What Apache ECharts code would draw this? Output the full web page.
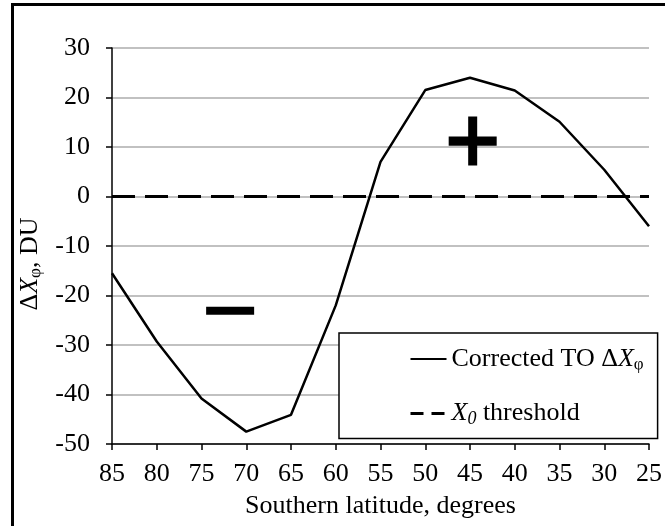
<!DOCTYPE html>
<html><head><meta charset="utf-8">
<script src="https://cdn.jsdelivr.net/npm/echarts@6/dist/echarts.min.js"></script>
<style>html,body{margin:0;padding:0;background:#fff}#c{width:665px;height:526px}</style>
</head><body><div id="c"></div>
<script>
const latitudes = [85, 80, 75, 70, 65, 60, 55, 50, 45, 40, 35, 30, 25];
const correctedTO = [-15.5, -29.3, -40.8, -47.5, -44.1, -22.0, 7.0, 21.5, 24.0, 21.4, 15.1, 5.4, -6.0];
const thresholdLat = [85, 25];
const thresholdVal = [0, 0];
const plusMark = [44.7, 11.2];
const minusMark = [71.8, -23.1];
const yTicks = [-50, -40, -30, -20, -10, 0, 10, 20, 30];
const xTicks = [85, 80, 75, 70, 65, 60, 55, 50, 45, 40, 35, 30, 25];

const F = 'Liberation Serif';
const FS = 26;
const chart = echarts.init(document.getElementById('c'));
const S1 = 'Corrected TO ΔXφ';
const S2 = 'X0 threshold';
const hidden = { color: 'rgba(0,0,0,0)', opacity: 0, borderWidth: 0 };
chart.setOption({
  animation: false,
  backgroundColor: '#fff',
  textStyle: { fontFamily: F },
  graphic: [{
    type: 'rect', shape: { x: 12.5, y: 4.5, width: 700, height: 600 },
    style: { fill: 'none', stroke: '#000', lineWidth: 3 }, z: 100, silent: true
  }],
  grid: { left: 112, right: 13, top: 48, bottom: 82 },
  xAxis: {
    type: 'value', min: xTicks[xTicks.length - 1], max: xTicks[0], interval: 5, inverse: true,
    name: 'Southern latitude, degrees', nameLocation: 'middle', nameGap: 49,
    nameTextStyle: { fontFamily: F, fontSize: FS, color: '#000' },
    axisLine: { onZero: false, lineStyle: { color: '#000', width: 1.5 } },
    axisTick: { show: true, length: 6, lineStyle: { color: '#000', width: 1.5 } },
    axisLabel: { fontFamily: F, fontSize: FS, color: '#000', margin: 17 },
    splitLine: { show: false }
  },
  yAxis: {
    type: 'value', min: yTicks[0], max: yTicks[yTicks.length - 1], interval: 10,
    name: '{d|Δ}{i|X}{s|φ}{n|, DU}', nameLocation: 'middle', nameGap: 64, nameRotate: 90,
    nameTextStyle: {
      fontFamily: F, fontSize: FS, color: '#000', padding: [0, 36, 0, 0],
      rich: {
        d: { fontFamily: F, fontSize: FS, color: '#000' },
        i: { fontFamily: F, fontSize: FS, fontStyle: 'italic', color: '#000' },
        s: { fontFamily: F, fontSize: 17, color: '#000', padding: [12, 0, 0, 0] },
        n: { fontFamily: F, fontSize: FS, color: '#000' }
      }
    },
    axisLine: { show: true, onZero: false, lineStyle: { color: '#000', width: 1.5 } },
    axisTick: { show: true, length: 6, lineStyle: { color: '#000', width: 1.5 } },
    axisLabel: { fontFamily: F, fontSize: FS, color: '#000', margin: 22 },
    splitLine: { show: true, lineStyle: { color: '#adadad', width: 1.5 } }
  },
  legend: {
    orient: 'vertical', left: 339, top: 333,
    padding: [13, 14, 10, 70], itemGap: 27,
    itemWidth: 36, itemHeight: 20,
    backgroundColor: '#fff', borderColor: '#000', borderWidth: 1.5, borderRadius: 0,
    data: [
      { name: S1, lineStyle: { width: 2 }, itemStyle: hidden },
      { name: S2, lineStyle: { width: 3, type: [13, 8] }, itemStyle: hidden }
    ],
    formatter: function (n) {
      return n === S1 ? '{n|Corrected TO Δ}{i|X}{s|φ}' : '{i|X}{si|0}{n| threshold}';
    },
    textStyle: {
      fontFamily: F, fontSize: FS, color: '#000',
      rich: {
        n: { fontFamily: F, fontSize: FS, color: '#000' },
        i: { fontFamily: F, fontSize: FS, fontStyle: 'italic', color: '#000' },
        s: { fontFamily: F, fontSize: 17, color: '#000', padding: [12, 0, 0, 0] },
        si: { fontFamily: F, fontSize: 18, fontStyle: 'italic', color: '#000', padding: [12, 0, 0, 0] }
      }
    },
    selectedMode: false
  },
  series: [
    {
      name: S1, type: 'line', symbol: 'none', z: 5,
      data: latitudes.map((x, i) => [x, correctedTO[i]]),
      lineStyle: { color: '#000', width: 2.5 }, itemStyle: { color: '#000' }
    },
    {
      name: S2, type: 'line', symbol: 'none', z: 4,
      data: thresholdLat.map((x, i) => [x, thresholdVal[i]]),
      lineStyle: { color: '#000', width: 3, type: [23, 10] }, itemStyle: { color: '#000' }
    },
    {
      name: 'plus', type: 'scatter', silent: true, z: 6,
      symbol: 'path://M19.5,0h9v19.5h19.5v9h-19.5v19.5h-9v-19.5h-19.5v-9h19.5z',
      symbolSize: [48, 49], itemStyle: { color: '#000', opacity: 1 },
      data: [plusMark]
    },
    {
      name: 'minus', type: 'scatter', silent: true, z: 6,
      symbol: 'rect', symbolSize: [48, 8], itemStyle: { color: '#000', opacity: 1 },
      data: [minusMark]
    }
  ]
});
</script></body></html>
